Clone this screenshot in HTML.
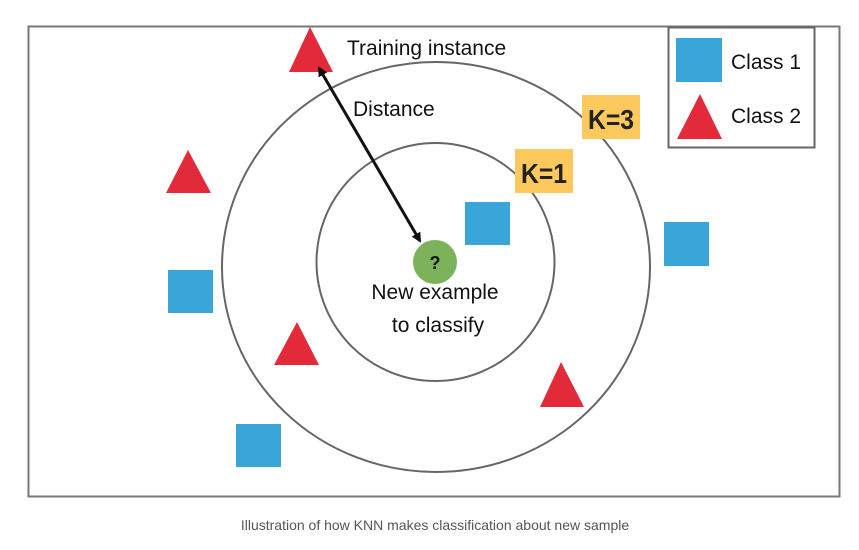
<!DOCTYPE html>
<html><head><meta charset="utf-8"><style>
body{margin:0;background:#fff;width:859px;height:550px;overflow:hidden}
svg{display:block}
text{font-family:"Liberation Sans",sans-serif}
</style></head><body>
<svg width="859" height="550" viewBox="0 0 859 550">
<defs><marker id="ah" markerWidth="10" markerHeight="10" refX="8" refY="5" orient="auto-start-reverse" markerUnits="userSpaceOnUse"><path d="M0,0 L10,5 L0,10 z" fill="#111"/></marker></defs>
<rect x="28.5" y="26.5" width="811" height="470" fill="#fff" stroke="#777" stroke-width="2"/>
<ellipse cx="436" cy="267" rx="214" ry="205" fill="none" stroke="#666" stroke-width="2"/>
<circle cx="435.5" cy="262" r="119" fill="none" stroke="#666" stroke-width="2"/>
<rect x="582" y="95" width="58" height="44" fill="#fdc95c"/>
<text x="611" y="129" font-size="28" font-weight="bold" text-anchor="middle" fill="#222" textLength="46" lengthAdjust="spacingAndGlyphs">K=3</text>
<rect x="515" y="149" width="58" height="44" fill="#fdc95c"/>
<text x="544" y="183" font-size="28" font-weight="bold" text-anchor="middle" fill="#222" textLength="46" lengthAdjust="spacingAndGlyphs">K=1</text>
<polygon points="310,27 289,72 333,72" fill="#e22a3a"/>
<polygon points="188,150 166,193 211,193" fill="#e22a3a"/>
<polygon points="297,322 274,365 319,365" fill="#e22a3a"/>
<polygon points="561,362 540,407 584,407" fill="#e22a3a"/>
<rect x="465" y="202" width="45" height="43" fill="#3aa5d8"/>
<rect x="664" y="222" width="45" height="44" fill="#3aa5d8"/>
<rect x="168" y="270" width="45" height="43" fill="#3aa5d8"/>
<rect x="236" y="424" width="45" height="43" fill="#3aa5d8"/>
<line x1="319" y1="68" x2="420" y2="241" stroke="#111" stroke-width="3" marker-start="url(#ah)" marker-end="url(#ah)"/>
<circle cx="435" cy="262" r="22" fill="#7cb35a"/>
<text x="435" y="269" font-size="18" font-weight="bold" text-anchor="middle" fill="#111">?</text>
<text x="347" y="55" font-size="21" fill="#111">Training instance</text>
<text x="353" y="116" font-size="21" fill="#111">Distance</text>
<text x="435" y="299" font-size="21" text-anchor="middle" fill="#111">New example</text>
<text x="438" y="332" font-size="21" text-anchor="middle" fill="#111">to classify</text>
<rect x="668.5" y="27.5" width="146" height="120" fill="#fff" stroke="#666" stroke-width="2"/>
<rect x="676" y="38" width="46" height="44" fill="#3aa5d8"/>
<polygon points="700,94 677,139 722,139" fill="#e22a3a"/>
<text x="731" y="69" font-size="21" fill="#111">Class 1</text>
<text x="731" y="123" font-size="21" fill="#111">Class 2</text>
<text x="435" y="530" font-size="14" text-anchor="middle" fill="#555">Illustration of how KNN makes classification about new sample</text>
</svg>
</body></html>
